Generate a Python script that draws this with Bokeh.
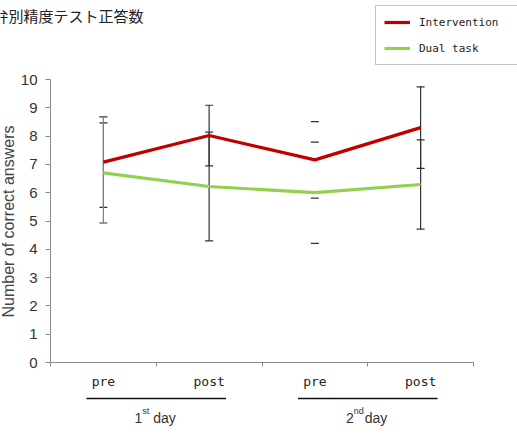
from bokeh.plotting import figure
from bokeh.models import (Range1d, FixedTicker, Whisker, TeeHead, ColumnDataSource,
                          Label, Legend, LegendItem)
from bokeh.core.properties import value
from bokeh.embed import file_html
from bokeh.resources import INLINE

# ---- data ----
title_text = "弁別精度テスト正答数"
y_title = "Number of correct answers"
phases = ["pre", "post", "pre", "post"]
day_num = ["1", "2"]
day_sup = ["st", "nd"]
day_word = "day"
series_names = ["Intervention", "Dual task"]
intervention_mean = [7.08, 8.02, 7.16, 8.30]
intervention_sd = [1.60, 1.07, 1.35, 1.44]
dual_mean = [6.70, 6.22, 6.00, 6.29]
dual_sd = [1.77, 1.92, 1.79, 1.58]
stem_colors = ["#808080", "#333333", None, "#333333"]
y_ticks = [0, 1, 2, 3, 4, 5, 6, 7, 8, 9, 10]

# ---- geometry: the frame covers the whole canvas; axis area is left 50, top 79 ----
W, H = 517, 443
AL, AT = 50, 79
PX_X = 423 / 4.0         # px per category
PX_Y = 28.3              # px per answer unit

def dx(px):
    return (px - AL) / PX_X

def dy(py):
    return 10 - (py - AT) / PX_Y

n = len(phases)
centers = [i + 0.5 for i in range(n)]

p = figure(frame_width=W, frame_height=H, output_backend="svg", toolbar_location=None,
           x_range=Range1d(dx(0), dx(W)), y_range=Range1d(dy(H), dy(0)),
           min_border=0, title=None, background_fill_color="white",
           border_fill_color="white")
p.outline_line_color = None
p.xgrid.visible = False
p.ygrid.visible = False

AX = "#8c8c8c"
# y axis at x = 0
p.yaxis.fixed_location = 0
p.yaxis.ticker = FixedTicker(ticks=y_ticks)
p.yaxis.bounds = (0, 10)
p.yaxis.axis_line_color = AX
p.yaxis.major_tick_line_color = AX
p.yaxis.major_tick_out = 5
p.yaxis.major_tick_in = 0
p.yaxis.minor_tick_line_color = None
p.yaxis.major_label_standoff = 8
p.yaxis.major_label_text_font = "Liberation Sans"
p.yaxis.major_label_text_font_size = "15px"
p.yaxis.major_label_text_color = "#333333"

# x axis at y = 0
p.xaxis.fixed_location = 0
p.xaxis.ticker = FixedTicker(ticks=list(range(n + 1)))
p.xaxis.bounds = (0, n)
p.xaxis.axis_line_color = AX
p.xaxis.major_tick_line_color = AX
p.xaxis.major_tick_out = 4
p.xaxis.major_tick_in = 0
p.xaxis.minor_tick_line_color = None
p.xaxis.major_label_overrides = {i: "" for i in range(n + 1)}

# error bars
def add_err(mean, sd):
    lo = [m - s for m, s in zip(mean, sd)]
    hi = [m + s for m, s in zip(mean, sd)]
    src = ColumnDataSource(dict(x=centers, lo=lo, hi=hi, c=stem_colors))
    p.segment(x0="x", x1="x", y0="lo", y1="hi", line_color="c", line_width=1.2, source=src)
    w = Whisker(base="x", lower="lo", upper="hi", source=src, line_alpha=0,
                upper_head=TeeHead(size=8, line_color="#333333", line_width=1.2),
                lower_head=TeeHead(size=8, line_color="#333333", line_width=1.2))
    p.add_layout(w)

add_err(intervention_mean, intervention_sd)
add_err(dual_mean, dual_sd)

r1 = p.line(centers, intervention_mean, line_color="#C00000", line_width=3.2)
r2 = p.line(centers, dual_mean, line_color="#92D050", line_width=3.2)

legend = Legend(items=[LegendItem(label=series_names[0], renderers=[r1]),
                       LegendItem(label=series_names[1], renderers=[r2])],
                location=(375, H - 65), orientation="vertical",
                border_line_color="#8c8c8c", border_line_width=1,
                padding=8, margin=0, spacing=10, glyph_width=26, glyph_height=16,
                label_height=16, label_width=91, label_standoff=9,
                label_text_font="DejaVu Sans Mono", label_text_font_size="11px",
                label_text_color="#222222", background_fill_alpha=1)
p.add_layout(legend, "center")

# category labels
p.text(x=centers, y=[dy(381)] * n, text=phases, text_align="center", text_baseline="middle",
       text_font=value("DejaVu Sans Mono"), text_font_size="13px", text_color="#222222")

# day groups
g_left = [centers[0] - 0.16, centers[2] - 0.16]
g_right = [centers[1] + 0.16, centers[3] + 0.16]
g_mid = [(centers[0] + centers[1]) / 2, (centers[2] + centers[3]) / 2]
p.segment(x0=g_left, x1=g_right, y0=[dy(398)] * 2, y1=[dy(398)] * 2,
          line_color="#111111", line_width=1.5)
p.text(x=g_mid, y=[dy(417)] * 2, text=[" " + day_word] * 2, text_align="left",
       text_baseline="middle", text_font=value("Liberation Sans"), text_font_size="14px",
       text_color="#333333", x_offset=-3)
p.text(x=g_mid, y=[dy(410)] * 2, text=day_sup, text_align="left", text_baseline="middle",
       text_font=value("Liberation Sans"), text_font_size="9px", text_color="#333333",
       x_offset=-14)
p.text(x=g_mid, y=[dy(417)] * 2, text=day_num, text_align="right", text_baseline="middle",
       text_font=value("Liberation Sans"), text_font_size="14px", text_color="#333333",
       x_offset=-14)

# y title
p.add_layout(Label(x=dx(8), y=dy(221), text=y_title, angle=1.5708, text_align="center",
                   text_baseline="middle", text_font="Liberation Sans",
                   text_font_size="16px", text_color="#444444"))
# chart title
p.add_layout(Label(x=dx(-7), y=dy(15), text=title_text, text_align="left",
                   text_baseline="middle", text_font="Noto Sans CJK JP",
                   text_font_size="15px", text_color="#222222"))

open("out.html", "w").write(file_html(p, INLINE))
